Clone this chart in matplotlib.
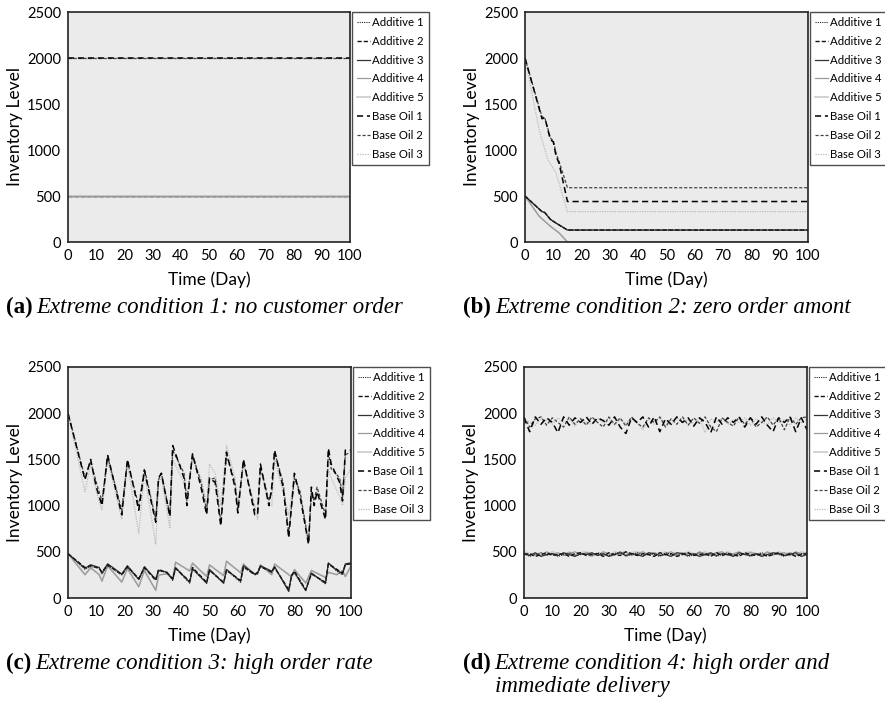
import matplotlib
matplotlib.use("Agg")
import matplotlib.pyplot as plt

plt.rcParams['font.family'] = ['Lato', 'DejaVu Sans']

LABELS = ["Additive 1", "Additive 2", "Additive 3", "Additive 4", "Additive 5",
          "Base Oil 1", "Base Oil 2", "Base Oil 3"]

# --- (a) no customer order: flat levels
A_DAYS = [0, 100]
A_ADD = [500, 500]
A_BASE = [2000, 2000]

# --- (b) zero order amount
B_BASE_DAYS = [0, 6, 7, 9, 10, 11, 12, 15, 100]
B_BASE1 = [2000, 1340, 1350, 1110, 1090, 930, 860, 440, 440]
B_BASE2 = [2000, 1360, 1350, 1130, 1100, 960, 880, 590, 590]
B_BASE3_DAYS = [0, 5, 8, 11, 15, 100]
B_BASE3 = [2000, 1220, 900, 750, 330, 330]
B_ADD_DAYS = [0, 6, 7, 9, 11, 15, 100]
B_ADD123 = [500, 330, 320, 245, 205, 130, 130]
B_ADD45_DAYS = [0, 5, 9, 12, 15, 100]
B_ADD45 = [500, 280, 170, 100, 0, 0]

# --- (c) high order rate
C_BASE_DAYS = [0, 6, 8, 10, 12, 14, 19, 21, 25, 27, 31, 32, 33, 36, 37, 41, 42, 44,
               47, 49, 50, 52, 54, 56, 59, 60, 62, 66, 67, 68, 71, 72, 73, 76, 78,
               80, 82, 85, 86, 87, 88, 91, 92, 93, 96, 97, 98, 100]
C_BASE1 = [2000, 1280, 1500, 1200, 1000, 1550, 900, 1500, 950, 1380, 820, 1300, 1350,
           880, 1650, 1300, 1000, 1560, 1200, 900, 1300, 1250, 780, 1580, 1200, 920,
           1500, 900, 900, 1450, 1000, 1200, 1600, 1200, 650, 1350, 1100, 580, 1200,
           1000, 1150, 850, 1620, 1450, 1250, 1050, 1600, 1600]
C_BASE2 = [2000, 1300, 1480, 1250, 1050, 1530, 950, 1480, 1000, 1400, 850, 1280, 1350,
           900, 1600, 1350, 1050, 1550, 1250, 950, 1280, 1300, 820, 1550, 1250, 950,
           1480, 950, 950, 1420, 1050, 1150, 1580, 1250, 700, 1300, 1150, 600, 1150,
           1050, 1200, 900, 1580, 1400, 1300, 1100, 1550, 1580]
C_BASE3 = [2000, 1150, 1450, 1150, 950, 1500, 850, 1450, 700, 1350, 580, 1250, 1300,
           760, 1500, 1250, 1100, 1500, 1300, 1000, 1450, 1350, 1000, 1650, 1300, 1000,
           1450, 1000, 850, 1400, 1000, 1000, 1500, 1150, 900, 1300, 1150, 600, 1100,
           1050, 1150, 900, 1400, 1300, 1100, 1000, 1300, 1400]
C_ADD_DAYS = [0, 6, 8, 11, 12, 14, 19, 21, 25, 27, 31, 32, 35, 37, 38, 43, 44, 49, 50,
              55, 56, 61, 62, 66, 67, 68, 72, 73, 78, 79, 80, 84, 86, 91, 92, 95, 97,
              98, 100]
C_ADD1 = [480, 310, 340, 330, 260, 350, 250, 330, 200, 320, 210, 290, 280, 190, 320,
          160, 310, 160, 300, 160, 300, 170, 330, 260, 260, 340, 280, 330, 80, 250,
          270, 80, 270, 150, 370, 290, 250, 360, 370]
C_ADD2 = [480, 330, 350, 320, 280, 360, 250, 340, 210, 330, 190, 310, 270, 210, 320,
          180, 330, 170, 300, 170, 300, 190, 340, 250, 280, 340, 280, 330, 90, 240,
          290, 90, 260, 170, 370, 310, 270, 360, 370]
C_ADD3 = [480, 320, 360, 330, 270, 370, 260, 350, 200, 340, 200, 300, 280, 200, 330,
          170, 320, 160, 310, 160, 310, 180, 350, 260, 270, 350, 290, 340, 70, 250,
          280, 80, 270, 160, 380, 300, 260, 370, 380]
C_ADD4 = [480, 250, 330, 250, 180, 350, 170, 320, 120, 300, 80, 250, 260, 200, 390,
          290, 380, 230, 360, 240, 400, 270, 370, 250, 260, 360, 250, 370, 250, 230,
          310, 160, 300, 220, 280, 250, 300, 230, 350]
C_ADD5 = [480, 260, 320, 260, 190, 340, 180, 310, 130, 290, 90, 240, 270, 210, 380,
          300, 370, 240, 350, 250, 390, 280, 360, 260, 270, 350, 260, 360, 260, 220,
          300, 170, 290, 230, 270, 260, 290, 240, 340]

# --- (d) high order and immediate delivery (every 2 days)
D_DAYS = list(range(0, 101, 2))
D_BASE1 = [1950, 1800, 1960, 1880, 1950, 1900, 1790, 1960, 1870, 1950,
           1900, 1960, 1880, 1950, 1920, 1870, 1960, 1850, 1780, 1950,
           1900, 1960, 1850, 1960, 1800, 1940, 1880, 1960, 1900, 1950,
           1860, 1950, 1900, 1790, 1960, 1880, 1950, 1900, 1960, 1850,
           1950, 1880, 1960, 1870, 1800, 1950, 1900, 1960, 1800, 1950, 1820]
D_BASE2 = [1960, 1850, 1940, 1960, 1870, 1950, 1900, 1850, 1960, 1880,
           1940, 1870, 1960, 1900, 1850, 1960, 1880, 1950, 1860, 1960,
           1890, 1850, 1950, 1900, 1960, 1850, 1940, 1880, 1960, 1870,
           1950, 1890, 1960, 1850, 1800, 1950, 1900, 1860, 1960, 1880,
           1950, 1850, 1900, 1960, 1870, 1950, 1820, 1960, 1880, 1950, 1960]
D_BASE3 = [1940, 1900, 1870, 1950, 1920, 1880, 1950, 1900, 1930, 1860,
           1950, 1900, 1880, 1940, 1900, 1950, 1870, 1930, 1890, 1950,
           1900, 1820, 1940, 1880, 1950, 1900, 1870, 1950, 1900, 1930,
           1880, 1950, 1790, 1940, 1900, 1950, 1880, 1930, 1900, 1950,
           1870, 1940, 1900, 1880, 1950, 1900, 1930, 1870, 1950, 1900, 1940]
D_ADD1 = [480, 450, 470, 490, 460, 480, 450, 470, 490, 460,
          470, 480, 450, 490, 470, 460, 480, 500, 450, 470,
          490, 460, 480, 470, 450, 490, 470, 460, 480, 450,
          470, 490, 460, 480, 450, 470, 490, 460, 470, 480,
          450, 470, 490, 460, 480, 470, 450, 490, 460, 480, 470]
D_ADD2 = [470, 480, 450, 470, 490, 460, 470, 480, 450, 480,
          490, 460, 470, 480, 450, 490, 470, 460, 500, 480,
          460, 480, 470, 450, 490, 470, 480, 450, 470, 490,
          460, 470, 480, 450, 490, 460, 480, 470, 450, 490,
          470, 460, 480, 450, 470, 490, 460, 480, 450, 470, 480]
D_ADD3 = [480, 460, 490, 450, 470, 480, 460, 490, 470, 450,
          480, 470, 490, 460, 480, 450, 470, 490, 460, 480,
          470, 450, 490, 480, 460, 470, 450, 490, 480, 460,
          480, 450, 470, 490, 460, 480, 470, 450, 490, 470,
          460, 480, 450, 470, 490, 480, 460, 470, 490, 450, 470]
D_ADD4 = [490, 470, 480, 460, 500, 470, 490, 460, 480, 500,
          470, 490, 480, 460, 500, 480, 470, 490, 500, 460,
          480, 500, 470, 490, 460, 480, 500, 470, 490, 480,
          460, 500, 480, 470, 490, 500, 460, 480, 500, 470,
          490, 480, 460, 500, 470, 480, 490, 460, 500, 480, 490]
D_ADD5 = [500, 480, 460, 490, 470, 500, 480, 470, 500, 460,
          490, 500, 470, 480, 490, 460, 500, 480, 470, 490,
          500, 470, 460, 490, 480, 500, 460, 490, 470, 500,
          480, 470, 500, 460, 490, 480, 500, 470, 460, 490,
          500, 480, 470, 490, 460, 500, 480, 490, 470, 500, 480]

CAPTIONS = [("(a)", ["Extreme condition 1: no customer order"]),
            ("(b)", ["Extreme condition 2: zero order amont"]),
            ("(c)", ["Extreme condition 3: high order rate"]),
            ("(d)", ["Extreme condition 4: high order and", "immediate delivery"])]

# line style per series, same order as LABELS
STYLES = [
    dict(color="#222222", ls=(0, (1, 1)), lw=0.8),
    dict(color="#111111", ls=(0, (3, 1.5)), lw=1.0),
    dict(color="#333333", ls="-", lw=0.9),
    dict(color="#999999", ls="-", lw=0.9),
    dict(color="#cfcfcf", ls="-", lw=1.3),
    dict(color="#000000", ls=(0, (4, 2.5)), lw=1.1),
    dict(color="#444444", ls=(0, (2.5, 1.5)), lw=0.9),
    dict(color="#bbbbbb", ls=(0, (1, 1)), lw=0.9),
]


def panel_series(i):
    """Return list of (x, y) per series in LABELS order for panel i."""
    if i == 0:
        return [(A_DAYS, A_ADD)] * 5 + [(A_DAYS, A_BASE)] * 3
    if i == 1:
        return [(B_ADD_DAYS, B_ADD123)] * 3 + [(B_ADD45_DAYS, B_ADD45)] * 2 + \
               [(B_BASE_DAYS, B_BASE1), (B_BASE_DAYS, B_BASE2), (B_BASE3_DAYS, B_BASE3)]
    if i == 2:
        return [(C_ADD_DAYS, C_ADD1), (C_ADD_DAYS, C_ADD2), (C_ADD_DAYS, C_ADD3),
                (C_ADD_DAYS, C_ADD4), (C_ADD_DAYS, C_ADD5),
                (C_BASE_DAYS, C_BASE1), (C_BASE_DAYS, C_BASE2), (C_BASE_DAYS, C_BASE3)]
    return [(D_DAYS, D_ADD1), (D_DAYS, D_ADD2), (D_DAYS, D_ADD3),
            (D_DAYS, D_ADD4), (D_DAYS, D_ADD5),
            (D_DAYS, D_BASE1), (D_DAYS, D_BASE2), (D_DAYS, D_BASE3)]


W, H = 885, 703
fig = plt.figure(figsize=(W / 100, H / 100), dpi=100)

# axes boxes in pixels: left, top, width, height
BOXES = [(68, 12, 282, 230), (525, 12, 283, 230),
         (68, 367, 283, 231), (524, 367, 283, 231)]

for i, (l, t, w, h) in enumerate(BOXES):
    ax = fig.add_axes([l / W, 1 - (t + h) / H, w / W, h / H])
    ax.set_facecolor("#ebebeb")
    # draw light ones first, dark on top (panel a: the flat 500 line shows grey)
    order = [4, 3, 7, 6, 5, 2, 1, 0] if i else [7, 6, 5, 2, 1, 0, 4, 3]
    handles = {}
    for k in order:
        x, y = panel_series(i)[k]
        (ln,) = ax.plot(x, y, label=LABELS[k], **STYLES[k])
        handles[k] = ln
    ax.set_xlim(0, 100)
    ax.set_ylim(0, 2500)
    ax.set_xticks(range(0, 101, 10))
    ax.set_yticks(range(0, 2501, 500))
    ax.tick_params(length=0, labelsize=10.5, pad=5)
    for s in ax.spines.values():
        s.set_color("#222222")
        s.set_linewidth(1.2)
    ax.set_xlabel("Time (Day)", fontsize=12.5, labelpad=6)
    ax.set_ylabel("Inventory Level", fontsize=12.5, labelpad=3)
    leg = ax.legend([handles[k] for k in range(8)], LABELS,
                    loc="upper left", bbox_to_anchor=(1.007, 1.0),
                    borderaxespad=0, fontsize=8.2, frameon=True, fancybox=False,
                    handlelength=1.15, handletextpad=0.25, labelspacing=0.7,
                    borderpad=0.4)
    leg.get_frame().set_edgecolor("#222222")
    leg.get_frame().set_linewidth(1.0)

# captions below each panel: bold tag, then italic text
CAP_POS = [(6, 313), (463, 313), (6, 669), (463, 669)]
LINE_GAP = 23
renderer = fig.canvas.get_renderer()
for (tag, lines), (cx, cy) in zip(CAPTIONS, CAP_POS):
    t = fig.text(cx / W, 1 - cy / H, tag, fontsize=16.5, fontweight="bold",
                 family="Liberation Serif", va="baseline", ha="left")
    tw = t.get_window_extent(renderer).width
    for j, line in enumerate(lines):
        fig.text((cx + tw + 4) / W, 1 - (cy + j * LINE_GAP) / H, line,
                 fontsize=16.5, style="italic", family="Liberation Serif",
                 va="baseline", ha="left")

fig.savefig("out.png", dpi=100)
